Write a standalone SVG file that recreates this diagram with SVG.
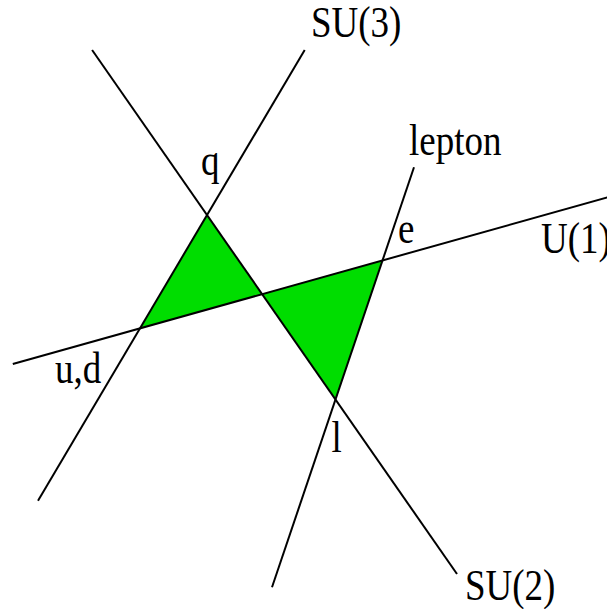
<svg xmlns="http://www.w3.org/2000/svg" width="607" height="609" viewBox="0 0 607 609">
<style>
.ln{stroke:#000;stroke-width:2;fill:none;stroke-linecap:butt}
.reg{fill:#00dd00;stroke:none}
.lb{font-family:"Liberation Serif","Times New Roman",serif;font-size:37px;fill:#000}
</style>
<rect width="607" height="609" fill="#fff"/>
<g id="regions">
<polygon id="quark-region" class="reg" points="207.1,215 140,328.4 262.3,294.1"/>
<polygon id="lepton-region" class="reg" points="262.3,294.1 382.5,260.4 335.6,399.3"/>
</g>
<g id="connectors">
<line class="ln" x1="304.7" y1="50" x2="38" y2="500.7"/>
<line class="ln" x1="92.1" y1="50" x2="457" y2="574"/>
<line class="ln" x1="414" y1="167.3" x2="272" y2="587.3"/>
<line class="ln" x1="12.8" y1="364" x2="609" y2="197"/>
</g>
<g id="labels">
<g id="su3"><text class="lb" transform="translate(311,37.3) scale(1,1.18)">SU(3)</text></g>
<g id="q"><text class="lb" transform="translate(201,174.6) scale(1,1.18)">q</text></g>
<g id="lepton"><text class="lb" transform="translate(409,155) scale(1,1.18)">lepton</text></g>
<g id="e"><text class="lb" transform="translate(398,243) scale(1,1.18)">e</text></g>
<g id="u1"><text class="lb" transform="translate(541,253.3) scale(1,1.18)">U(1)</text></g>
<g id="ud"><text class="lb" transform="translate(55,383.3) scale(1,1.18)">u,d</text></g>
<g id="l"><text class="lb" transform="translate(331.5,451.7) scale(1,1.18)">l</text></g>
<g id="su2"><text class="lb" transform="translate(465,600) scale(1,1.18)">SU(2)</text></g>
</g>
</svg>
